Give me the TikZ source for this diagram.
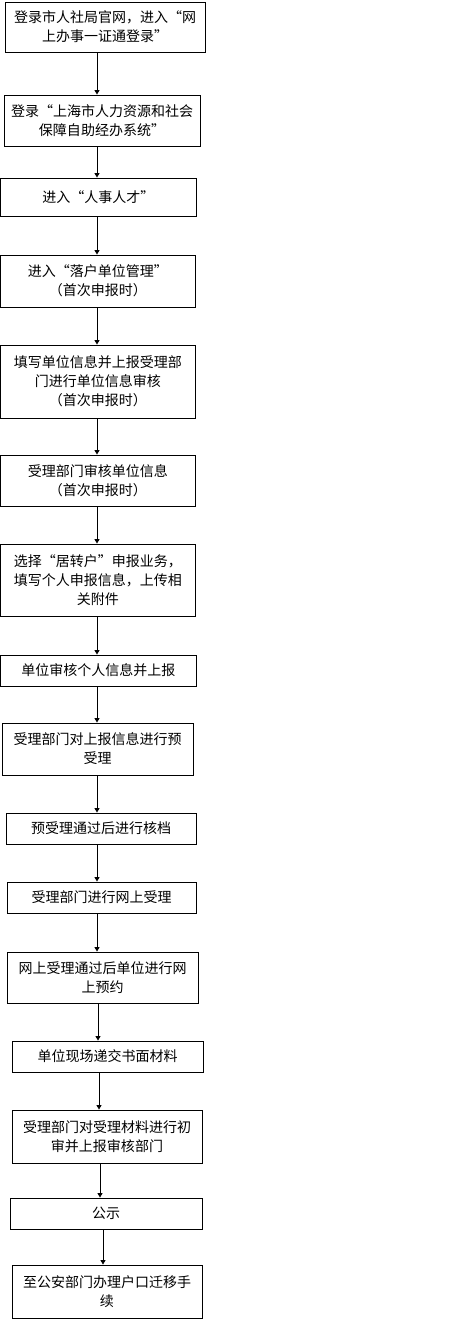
\documentclass[tikz,border=0pt]{standalone}
\usepackage{fontspec}
\setmainfont{Noto Sans CJK SC}
\usepackage{tikz}
\usetikzlibrary{positioning,arrows.meta,calc}
\tikzset{
  flowbox/.style={draw,line width=0.9pt,inner sep=0pt,align=center,font=\fontsize{14}{19}\selectfont},
  flowarr/.style={line width=0.9pt,-{Triangle[length=4.5pt,width=5pt]}}
}
\newcommand{\flowbox}[6]{%
  \node[flowbox,minimum width={(#4-#2)*1pt},minimum height={(#5-#3)*1pt}] (#1) at ({(#2+#4)/2},{(#3+#5)/2}) {#6};
}

\begin{document}
\begin{tikzpicture}[x=1pt,y=-1pt]
  \useasboundingbox (0,0) rectangle (467,1321);
  \flowbox{b1}{5}{2}{205}{52}{登录市人社局官网，进入“网\\上办事一证通登录”}
  \flowbox{b2}{4}{95}{200}{146}{登录“上海市人力资源和社会\\保障自助经办系统”}
  \flowbox{b3}{0.5}{178}{196}{216}{进入“人事人才”}
  \flowbox{b4}{0.5}{255}{195}{307}{进入“落户单位管理”\\（首次申报时）}
  \flowbox{b5}{0.5}{345}{195}{418}{填写单位信息并上报受理部\\门进行单位信息审核\\（首次申报时）}
  \flowbox{b6}{0.5}{455}{195}{506}{受理部门审核单位信息\\（首次申报时）}
  \flowbox{b7}{0.5}{544}{195}{616}{选择“居转户”申报业务，\\填写个人申报信息，上传相\\关附件}
  \flowbox{b8}{0.5}{655}{196}{686}{单位审核个人信息并上报}
  \flowbox{b9}{2}{723}{193}{775}{受理部门对上报信息进行预\\受理}
  \flowbox{b10}{6}{813}{196}{844}{预受理通过后进行核档}
  \flowbox{b11}{7}{882}{196}{913}{受理部门进行网上受理}
  \flowbox{b12}{7}{952}{198}{1003}{网上受理通过后单位进行网\\上预约}
  \flowbox{b13}{12}{1041}{203}{1072}{单位现场递交书面材料}
  \flowbox{b14}{12}{1110}{202}{1163}{受理部门对受理材料进行初\\审并上报审核部门}
  \flowbox{b15}{10}{1198}{202}{1229}{公示}
  \flowbox{b16}{12}{1265}{202}{1318}{至公安部门办理户口迁移手\\续}
  \foreach \a/\b/\x in {b1/b2/97,b2/b3/97,b3/b4/97,b4/b5/97,b5/b6/97,b6/b7/97,
    b7/b8/97,b8/b9/97,b9/b10/97,b10/b11/97,b11/b12/97,b12/b13/98,b13/b14/99,
    b14/b15/100,b15/b16/103}
    \draw[flowarr] (\a.south -| \x,0) -- (\b.north -| \x,0);
\end{tikzpicture}
\end{document}
